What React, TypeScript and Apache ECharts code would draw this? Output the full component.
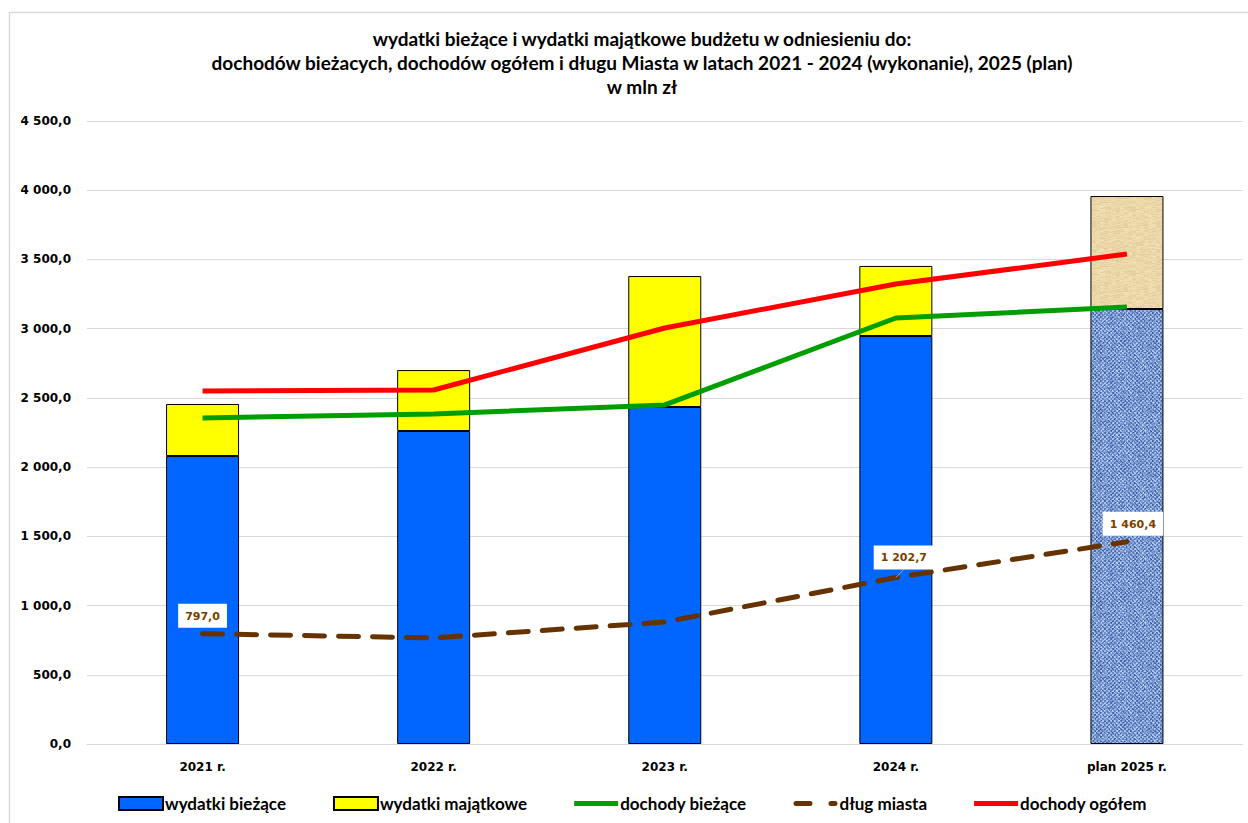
import React, { useEffect, useRef } from "react";
import * as echarts from "echarts";

const categories = ["2021 r.", "2022 r.", "2023 r.", "2024 r.", "plan 2025 r."];
const wydatkiBiezace = [2080, 2261, 2434, 2947, 3142];
const wydatkiMajatkowe = [376, 440, 946, 506, 816];
const dochodyBiezace = [2355, 2384, 2449, 3077, 3157];
const dlugMiasta = [797.0, 766, 881, 1202.7, 1460.4];
const dochodyOgolem = [2550, 2557, 3005, 3323, 3539];
const labeledDebt = [0, 3, 4];
const yTicks = { min: 0, max: 4500, interval: 500 };

const titleText =
  "wydatki bieżące i wydatki majątkowe budżetu w odniesieniu do:\n" +
  "dochodów bieżacych, dochodów ogółem i długu Miasta w latach 2021 - 2024 (wykonanie), 2025 (plan)\n" +
  "w mln zł";

function fmt(v: number): string {
  const s = v.toFixed(1);
  const [i, d] = s.split(".");
  return i.replace(/\B(?=(\d{3})+(?!\d))/g, " ") + "," + d;
}

function hash(x: number, y: number, s: number): number {
  let h = (x * 374761393 + y * 668265263 + s * 982451653) | 0;
  h = (h ^ (h >>> 13)) * 1274126177;
  h = h ^ (h >>> 16);
  return ((h >>> 0) % 1000) / 1000;
}

function makeTexture(kind: "denim" | "papyrus"): HTMLCanvasElement {
  const c = document.createElement("canvas");
  c.width = 64;
  c.height = 64;
  const ctx = c.getContext("2d")!;
  const img = ctx.createImageData(64, 64);
  for (let y = 0; y < 64; y++) {
    for (let x = 0; x < 64; x++) {
      const n = hash(x, y, kind === "denim" ? 1 : 2);
      const w = ((x >> 1) + (y >> 1)) % 2;
      let r, g, b;
      if (kind === "denim") {
        const t = 0.6 * n + 0.4 * w;
        r = 55 + t * 135;
        g = 90 + t * 125;
        b = 165 + t * 85;
      } else {
        const n2 = hash(x >> 2, y, 5);
        const t = 0.6 * n2 + 0.4 * n;
        r = 224 + t * 22;
        g = 202 + t * 26;
        b = 148 + t * 40;
      }
      const k = (y * 64 + x) * 4;
      img.data[k] = r;
      img.data[k + 1] = g;
      img.data[k + 2] = b;
      img.data[k + 3] = 255;
    }
  }
  ctx.putImageData(img, 0, 0);
  return c;
}

const solidIcon = "path://M0,0H44V5H0Z";
const dashIcon =
  "path://M2.5,0H16.5A2.5,2.5 0 0 1 16.5,5H2.5A2.5,2.5 0 0 1 2.5,0Z M37.5,0H41.5A2.5,2.5 0 0 1 41.5,5H37.5A2.5,2.5 0 0 1 37.5,0Z";

const labelShift: Record<number, [number, number]> = { 3: [8, -2], 4: [6, 0] };

export default function App() {
  const ref = useRef<HTMLDivElement>(null);
  useEffect(() => {
    if (!ref.current) return;
    const chart = echarts.init(ref.current, null, { renderer: "svg" });
    const denim = makeTexture("denim");
    const papyrus = makeTexture("papyrus");
    const axisFont = { fontFamily: "DejaVu Sans", fontWeight: "bold" as const, fontSize: 12, color: "#000" };
    const last = categories.length - 1;
    chart.setOption({
      animation: false,
      backgroundColor: "#fff",
      title: {
        text: titleText,
        left: 637,
        top: 21,
        textAlign: "center",
        textStyle: { fontFamily: "Lato", fontWeight: "bold", fontSize: 19, lineHeight: 24, color: "#000" },
      },
      graphic: [
        {
          type: "rect",
          shape: { x: 9.5, y: 12.5, width: 1260, height: 830 },
          style: { fill: "none", stroke: "#d9d9d9", lineWidth: 1.5 },
          silent: true,
        },
      ],
      grid: { left: 87, right: 5.5, top: 121, bottom: 79, containLabel: false },
      legend: {
        left: 118,
        top: 795,
        padding: 0,
        itemWidth: 44,
        itemHeight: 13,
        itemGap: 47,
        textStyle: { fontFamily: "Lato", fontWeight: "bold", fontSize: 17, color: "#000", padding: [0, 0, 0, -3] },
        data: [
          { name: "wydatki bieżące", icon: "rect" },
          { name: "wydatki majątkowe", icon: "rect" },
          { name: "dochody bieżące", icon: solidIcon },
          { name: "dług miasta", icon: dashIcon },
          { name: "dochody ogółem", icon: solidIcon },
        ],
      },
      xAxis: {
        type: "category",
        data: categories,
        boundaryGap: true,
        axisLine: { lineStyle: { color: "#d9d9d9", width: 1 } },
        axisTick: { show: false },
        axisLabel: { ...axisFont, margin: 17 },
      },
      yAxis: {
        type: "value",
        min: yTicks.min,
        max: yTicks.max,
        interval: yTicks.interval,
        axisLine: { show: false },
        axisTick: { show: false },
        splitLine: { lineStyle: { color: "#d9d9d9", width: 1 } },
        axisLabel: { ...axisFont, margin: 16, formatter: (v: number) => fmt(v) },
      },
      series: [
        {
          name: "wydatki bieżące",
          type: "bar",
          stack: "w",
          barWidth: 73,
          itemStyle: { color: "#0066ff", borderColor: "#000", borderWidth: 1 },
          data: wydatkiBiezace.map((v, i) =>
            i === last
              ? { value: v, itemStyle: { color: { image: denim, repeat: "repeat" } } }
              : v
          ),
        },
        {
          name: "wydatki majątkowe",
          type: "bar",
          stack: "w",
          barWidth: 73,
          itemStyle: { color: "#ffff00", borderColor: "#000", borderWidth: 1 },
          data: wydatkiMajatkowe.map((v, i) =>
            i === last
              ? { value: v, itemStyle: { color: { image: papyrus, repeat: "repeat" } } }
              : v
          ),
        },
        {
          name: "dochody bieżące",
          type: "line",
          symbol: "none",
          z: 3,
          lineStyle: { color: "#009e00", width: 5 },
          itemStyle: { color: "#009e00" },
          data: dochodyBiezace,
        },
        {
          name: "dług miasta",
          type: "line",
          symbol: "none",
          z: 4,
          lineStyle: { color: "#663300", width: 5, type: [20, 14], cap: "round" },
          itemStyle: { color: "#663300" },
          data: dlugMiasta,
        },
        {
          name: "dochody ogółem",
          type: "line",
          symbol: "none",
          z: 3,
          lineStyle: { color: "#ff0000", width: 5 },
          itemStyle: { color: "#ff0000" },
          data: dochodyOgolem,
        },
        {
          name: "dług etykiety",
          type: "scatter",
          z: 5,
          symbolSize: 0.01,
          itemStyle: { color: "#663300", opacity: 1 },
          labelLayout: (p: any) => {
            const s = labelShift[p.dataIndex];
            return s ? { dx: s[0], dy: s[1] } : {};
          },
          label: {
            show: true,
            position: "top",
            distance: 6,
            opacity: 1,
            formatter: (p: any) => fmt(p.value),
            fontFamily: "DejaVu Sans",
            fontWeight: "bold",
            fontSize: 11,
            color: "#7b3f00",
            backgroundColor: "#ffffff",
            padding: [7, 7, 6, 7],
          },
          data: dlugMiasta.map((v, i) =>
            labeledDebt.includes(i)
              ? {
                  value: v,
                  labelLine: {
                    show: i === 3,
                    lineStyle: { color: "#a6a6a6", width: 1, opacity: 1 },
                  },
                }
              : "-"
          ),
        },
      ],
    });
    return () => chart.dispose();
  }, []);
  return (
    <div
      ref={ref}
      style={{ position: "fixed", left: 0, top: 0, width: 1248, height: 823 }}
    />
  );
}
